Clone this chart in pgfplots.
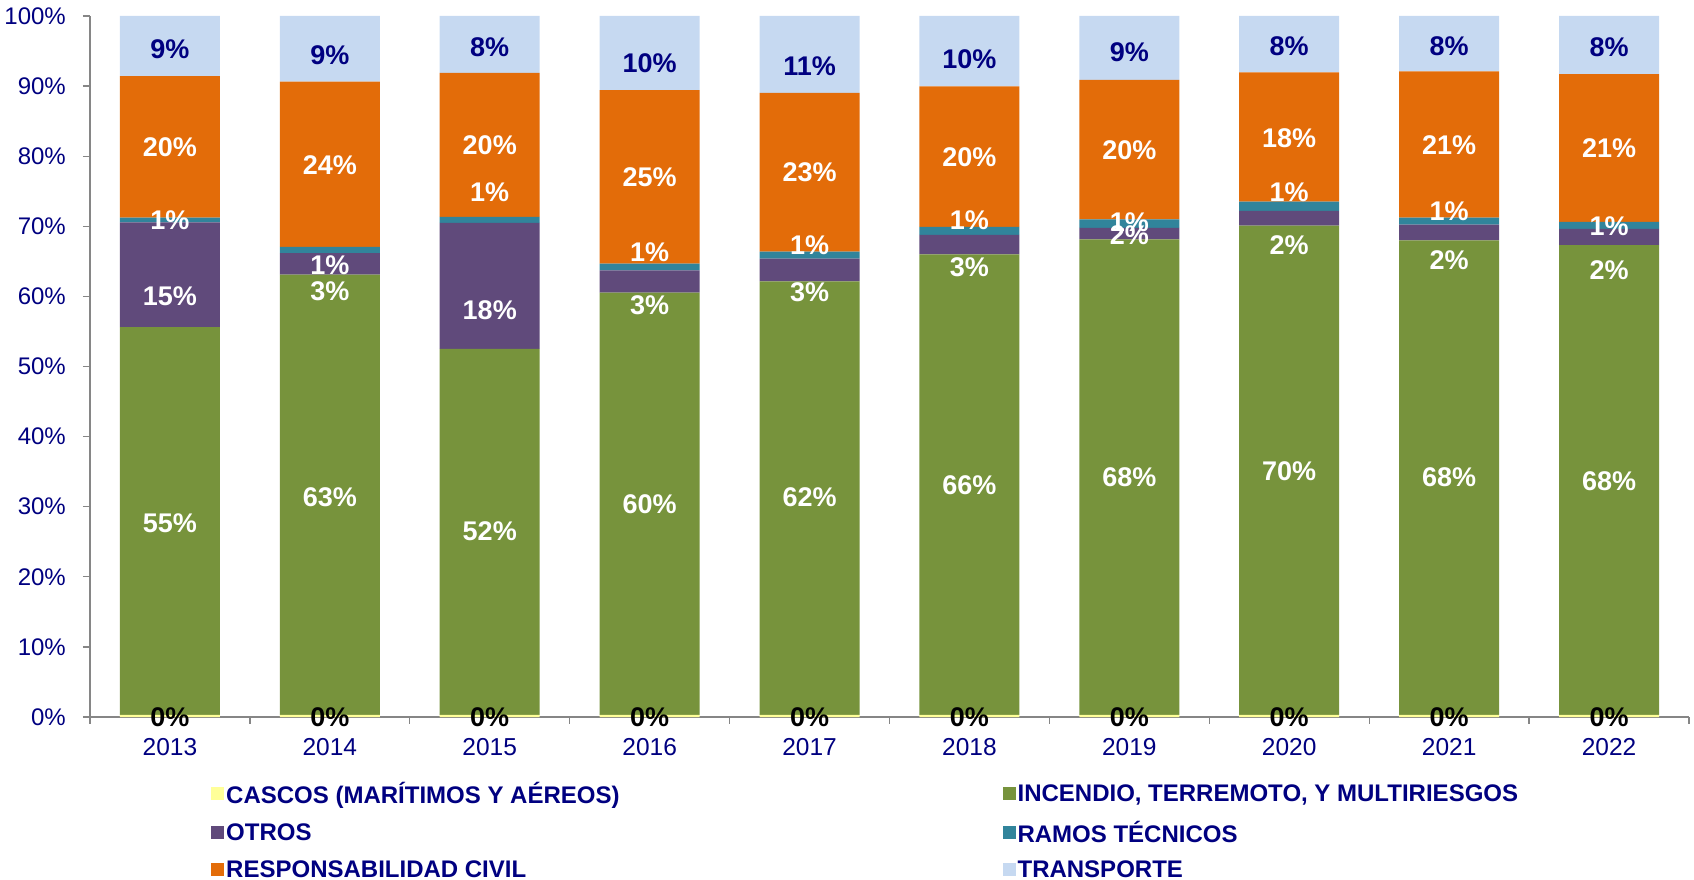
\documentclass[border=0pt]{standalone}
\usepackage{fontspec}
\setmainfont{Liberation Sans}
\usepackage{pgfplots}
\pgfplotsset{compat=1.18}
\usepackage{pgfplotstable}
\definecolor{cascos}{HTML}{FFFF99}
\definecolor{incendio}{HTML}{77933C}
\definecolor{otros}{HTML}{604A7B}
\definecolor{ramos}{HTML}{31849B}
\definecolor{rc}{HTML}{E36C09}
\definecolor{transp}{HTML}{C6D9F1}
\definecolor{navytxt}{HTML}{000080}
\definecolor{axisgray}{HTML}{868686}

\pgfplotstableread{
x cas inc otr ram rc tra
0 0.3 55.30 14.95 0.67 20.19 8.59
1 0.3 62.80 3.09 0.86 23.57 9.38
2 0.3 52.22 17.96 0.85 20.57 8.10
3 0.3 60.22 3.19 0.96 24.76 10.57
4 0.3 61.84 3.24 1.00 22.67 10.95
5 0.3 65.70 2.76 1.14 20.05 10.05
6 0.3 67.85 1.61 1.24 19.90 9.10
7 0.3 69.80 2.09 1.33 18.42 8.06
8 0.3 67.70 2.24 1.00 20.86 7.90
9 0.3 67.00 2.32 1.00 21.09 8.29
}\datatab

% label positions (y in %) and texts
\pgfplotstableread{
x y lab
0 27.7 55
1 31.4 63
2 26.5 52
3 30.4 60
4 31.3 62
5 33.0 66
6 34.2 68
7 35.1 70
8 34.2 68
9 33.7 68
0 60.0 15
1 60.7 3
2 58.0 18
3 58.7 3
4 60.6 3
5 64.2 3
6 68.7 2
7 67.3 2
8 65.1 2
9 63.7 2
0 70.9 1
1 64.5 1
2 74.8 1
3 66.3 1
4 67.3 1
5 70.9 1
6 70.6 1
7 74.8 1
8 72.2 1
9 70.0 1
0 81.3 20
1 78.7 24
2 81.6 20
3 77.0 25
4 77.7 23
5 79.9 20
6 80.8 20
7 82.6 18
8 81.6 21
9 81.1 21
}\labwhite

\pgfplotstableread{
x y lab
0 95.2 9
1 94.4 9
2 95.6 8
3 93.3 10
4 92.9 11
5 93.9 10
6 94.8 9
7 95.7 8
8 95.7 8
9 95.5 8
}\labnavy

\pgfplotstableread{
x y lab
0 0 0
1 0 0
2 0 0
3 0 0
4 0 0
5 0 0
6 0 0
7 0 0
8 0 0
9 0 0
}\labblack

\begin{document}
\begin{tikzpicture}
\useasboundingbox (-90pt,-163pt) rectangle (1604pt,717pt);
\begin{axis}[
  scale only axis, width=1599pt, height=701pt,
  at={(0pt,0pt)}, anchor=south west,
  ybar stacked, bar width=100pt,
  xmin=-0.5, xmax=9.5, ymin=0, ymax=100,
  xtick={0,...,9},
  xticklabels={2013,2014,2015,2016,2017,2018,2019,2020,2021,2022},
  minor xtick={-0.5,0.5,...,9.5},
  ytick={0,10,...,100},
  yticklabels={0\%,10\%,20\%,30\%,40\%,50\%,60\%,70\%,80\%,90\%,100\%},
  axis x line*=bottom, axis y line*=left,
  axis line style={-, draw=axisgray, line width=1.3pt},
  tick align=outside, major tick length=7pt, minor tick length=7pt,
  major x tick style={draw=none},
  minor x tick style={draw=axisgray, line width=1.3pt},
  major y tick style={draw=axisgray, line width=1.3pt},
  yticklabel style={font=\fontsize{24}{28}\selectfont, text=navytxt, inner sep=0pt, anchor=east, xshift=-17pt},
  xticklabel style={font=\fontsize{24.5}{28}\selectfont, text=navytxt, inner sep=0pt, anchor=north, yshift=-14pt},
  legend columns=2,
  legend cell align=left,
  legend image code/.code={\fill[#1,draw=none] (0pt,-6.5pt) rectangle (13pt,6.5pt);},
  legend style={at={(0.0757,-0.090)}, anchor=north west, draw=none, fill=none,
    font=\bfseries\fontsize{24}{28}\selectfont, text=navytxt,
    /tikz/every even column/.append style={column sep=381pt},
    row sep=12.5pt, inner sep=0pt},
]
\addplot[fill=cascos, draw=none] table[x=x,y=cas]{\datatab};
\addlegendentry{CASCOS (MARÍTIMOS Y AÉREOS)}
\addplot[fill=incendio, draw=none] table[x=x,y=inc]{\datatab};
\addlegendentry{INCENDIO, TERREMOTO, Y MULTIRIESGOS}
\addplot[fill=otros, draw=none] table[x=x,y=otr]{\datatab};
\addlegendentry{OTROS}
\addplot[fill=ramos, draw=none] table[x=x,y=ram]{\datatab};
\addlegendentry{RAMOS TÉCNICOS}
\addplot[fill=rc, draw=none] table[x=x,y=rc]{\datatab};
\addlegendentry{RESPONSABILIDAD CIVIL}
\addplot[fill=transp, draw=none] table[x=x,y=tra]{\datatab};
\addlegendentry{TRANSPORTE}
\end{axis}
\begin{axis}[
  scale only axis, width=1599pt, height=701pt,
  at={(0pt,0pt)}, anchor=south west,
  xmin=-0.5, xmax=9.5, ymin=0, ymax=100,
  hide axis, clip=false,
]
\addplot[only marks, mark=none, point meta=explicit symbolic,
  nodes near coords={\pgfplotspointmeta\%}, nodes near coords align=center,
  every node near coord/.append style={font=\bfseries\fontsize{27}{32}\selectfont, text=white, inner sep=0pt}]
  table[x=x,y=y,meta=lab]{\labwhite};
\addplot[only marks, mark=none, point meta=explicit symbolic,
  nodes near coords={\pgfplotspointmeta\%}, nodes near coords align=center,
  every node near coord/.append style={font=\bfseries\fontsize{27}{32}\selectfont, text=navytxt, inner sep=0pt}]
  table[x=x,y=y,meta=lab]{\labnavy};
\addplot[only marks, mark=none, point meta=explicit symbolic,
  nodes near coords={\pgfplotspointmeta\%}, nodes near coords align=center,
  every node near coord/.append style={font=\bfseries\fontsize{27}{32}\selectfont, text=black, inner sep=0pt}]
  table[x=x,y=y,meta=lab]{\labblack};
\end{axis}
\end{tikzpicture}
\end{document}
